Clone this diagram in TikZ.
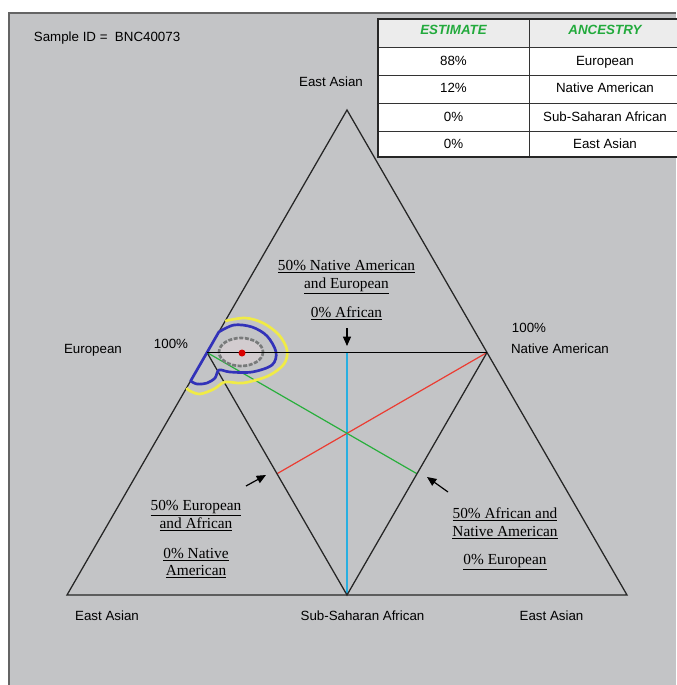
\documentclass[tikz,border=0pt]{standalone}
\usepackage{fontspec}
\setmainfont{Liberation Sans}
\newfontfamily\serifface{Liberation Serif}
\usetikzlibrary{arrows.meta,calc}
\definecolor{bg}{RGB}{195,196,198}
\definecolor{frame}{RGB}{100,100,100}
\definecolor{hdr}{RGB}{236,236,236}
\definecolor{tgreen}{RGB}{34,170,60}
\definecolor{lred}{RGB}{235,60,50}
\definecolor{lgreen}{RGB}{40,175,60}
\definecolor{lcyan}{RGB}{40,175,225}
\definecolor{cblue}{RGB}{50,50,185}
\definecolor{cyellow}{RGB}{240,235,70}
\definecolor{cgray}{RGB}{120,122,122}
\definecolor{cin}{RGB}{210,204,207}
\begin{document}
\begin{tikzpicture}[x=0.75pt,y=-0.75pt,
  sanslabel/.style={font=\fontsize{10}{12}\selectfont, anchor=base, inner sep=0pt},
  hdrlabel/.style={font=\fontsize{10}{12}\selectfont\bfseries\itshape, text=tgreen, anchor=base, inner sep=0pt},
  seriflabel/.style={font=\serifface\fontsize{11.5}{13.5}\selectfont, anchor=base, inner sep=0pt},
  edge/.style={draw=black!85, line width=0.95pt},
  pointer/.style={draw=black, line width=0.9pt, -{Triangle[length=7pt,width=6pt]}},
  contour/.style={line width=2pt, line join=round}
]
\useasboundingbox (0,0) rectangle (676,685);
% background panel
\fill[bg] (9,13) rectangle (676,685);
\draw[frame, line width=1.5pt] (9,685) -- (9,13) -- (676,13);

% table
\fill[hdr] (378,19) rectangle (684,47);
\fill[white] (378,47) rectangle (684,157);
\draw[black!80, line width=0.7pt] (378,47) -- (684,47) (378,75) -- (684,75) (378,103) -- (684,103) (378,131) -- (684,131);
\draw[black!80, line width=0.7pt] (529,19) -- (529,157);
\draw[black!85, line width=1.4pt] (378,19) rectangle (684,157);
\node[hdrlabel] (h1) at (453.5,35) {ESTIMATE};
\node[hdrlabel] (h2) at (605,35) {ANCESTRY};
\node[sanslabel] (e1) at (453.5,65) {88\%};
\node[sanslabel] (a1) at (605,65) {European};
\node[sanslabel] (e2) at (453.5,93) {12\%};
\node[sanslabel] (a2) at (605,93) {Native American};
\node[sanslabel] (e3) at (453.5,121) {0\%};
\node[sanslabel] (a3) at (605,121) {Sub-Saharan African};
\node[sanslabel] (e4) at (453.5,148) {0\%};
\node[sanslabel] (a4) at (605,148) {East Asian};

% triangle vertices
\coordinate (A) at (347,110);
\coordinate (L) at (67,595);
\coordinate (R) at (627,595);
\coordinate (B) at (347,595);
\coordinate (ML) at (207,352.5);
\coordinate (MR) at (487,352.5);
\coordinate (IL) at ($ (ML)!0.5!(B) $);
\coordinate (IR) at ($ (MR)!0.5!(B) $);

% coloured lines
\draw[lcyan, line width=0.9pt] (ML -| B) -- (B);
\draw[lred, line width=0.9pt] (IL) -- (MR);
\draw[lgreen, line width=0.9pt] (ML) -- (IR);

% triangle edges
\draw[edge] (A) -- (L) -- (R) -- cycle;
\draw[edge] (ML) -- (B) -- (MR);
\draw[draw=black, line width=1.4pt] (ML) -- (MR);

% contours
\draw[contour, cyellow] plot[smooth, tension=0.55] coordinates {(225.2,321) (245,318) (263,323) (279,335) (287,350) (284,364) (268,376) (243,383) (225,382) (214,389) (200,394) (190,391) (186.5,388)};
\draw[contour, cblue] (207.3,352) -- (218.8,332) -- plot[smooth, tension=0.55] coordinates {(218.8,332) (234,325) (252,327) (267,336) (276,352) (272,365) (252,372) (230,372) (219,370) (215,378) (207,383) (197,384) (190.6,381)} -- cycle;
\fill[cin] (241,352) ellipse [x radius=21, y radius=13];
\draw[contour, cgray, dash pattern=on 3pt off 1.2pt] (241,352) ellipse [x radius=22, y radius=14];
\draw[draw=black, line width=1.4pt] (ML) -- (MR);
\fill[red!85!black] (242,353) circle (3.5);

% pointers
\coordinate (p1s) at (347,328);
\coordinate (p1e) at (347,346);
\coordinate (p2s) at (246,486);
\coordinate (p2e) at (266,475);
\coordinate (p3s) at (448,492);
\coordinate (p3e) at (427,477);
\draw[pointer] (p1s) -- (p1e);
\draw[pointer] (p2s) -- (p2e);
\draw[pointer] (p3s) -- (p3e);

% sans labels
\node[sanslabel, anchor=base west] (sid) at (33.6,42) {Sample ID =\ \ BNC40073};
\node[sanslabel] (ltop) at (331,86.5) {East Asian};
\node[sanslabel] (leu) at (93,353) {European};
\node[sanslabel] (lp1) at (171,348) {100\%};
\node[sanslabel] (lp2) at (529,332) {100\%};
\node[sanslabel] (lna) at (560,353) {Native American};
\node[sanslabel] (lb1) at (107,620) {East Asian};
\node[sanslabel] (lb2) at (362.5,620) {Sub-Saharan African};
\node[sanslabel] (lb3) at (551.5,620) {East Asian};

% serif labels
\node[seriflabel] (s1) at (346.5,270.5) {\underline{50\% Native American}};
\node[seriflabel] (s2) at (346.5,288.5) {\underline{and European}};
\node[seriflabel] (s3) at (346.5,317) {\underline{0\% African}};
\node[seriflabel] (s4) at (196,510.5) {\underline{50\% European}};
\node[seriflabel] (s5) at (196,528.3) {\underline{and African}};
\node[seriflabel] (s6) at (196,558.3) {\underline{0\% Native}};
\node[seriflabel] (s7) at (196,575.7) {\underline{American}};
\node[seriflabel] (s8) at (505,518.3) {\underline{50\% African and}};
\node[seriflabel] (s9) at (505,536.7) {\underline{Native American}};
\node[seriflabel] (s10) at (505,564.3) {\underline{0\% European}};
\end{tikzpicture}
\end{document}
